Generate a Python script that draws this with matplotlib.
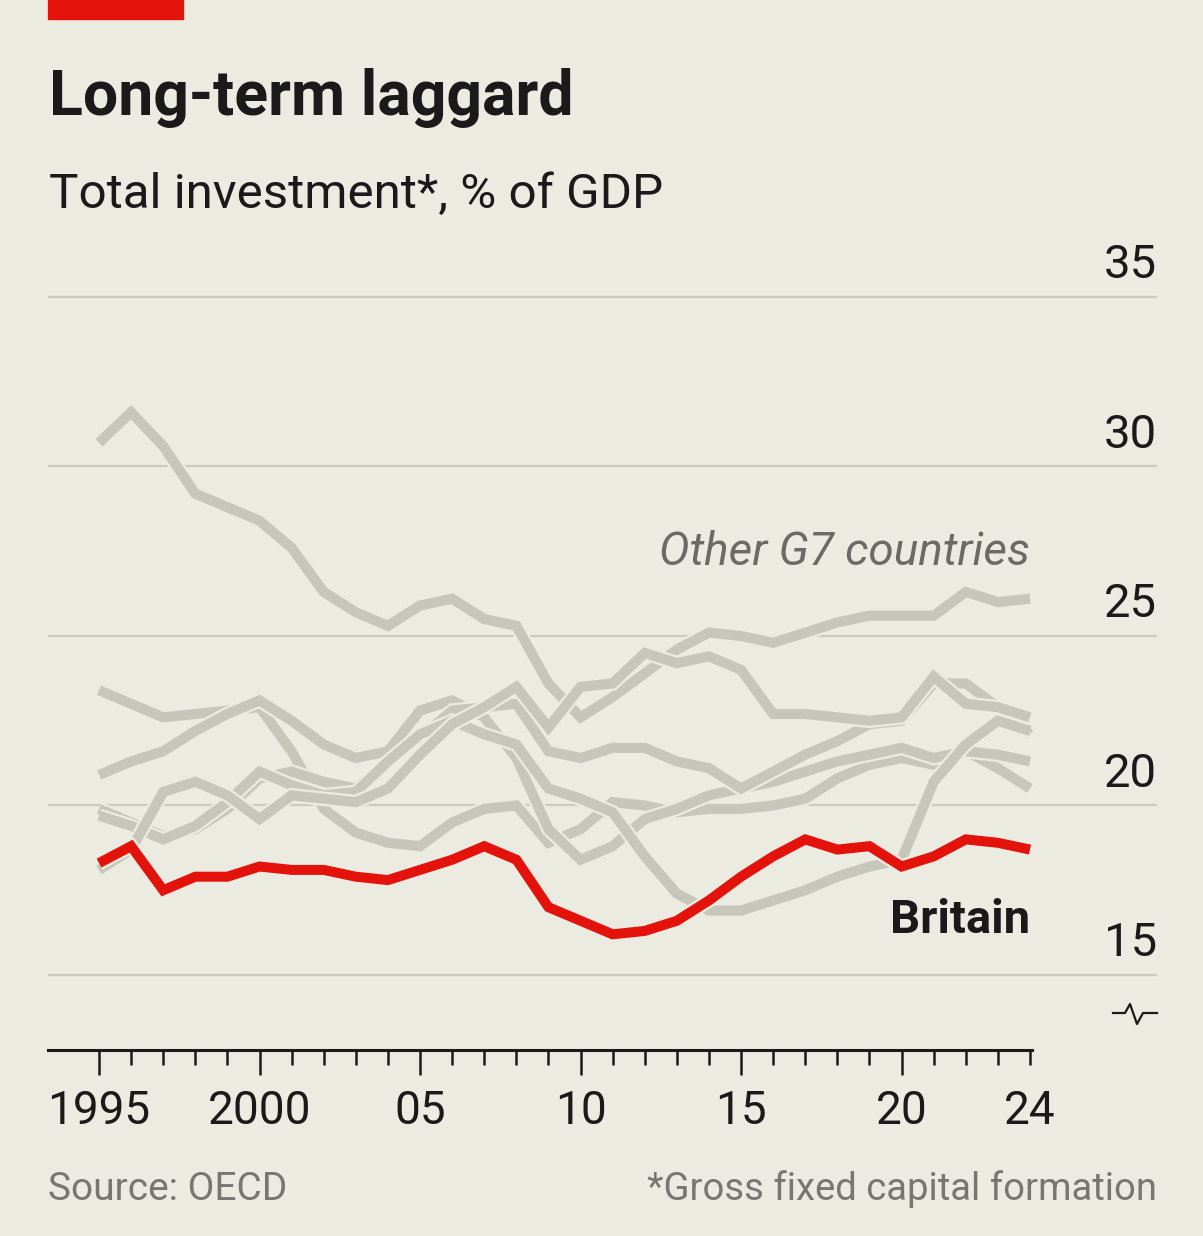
import matplotlib
matplotlib.use("Agg")
import matplotlib.pyplot as plt
import matplotlib.patheffects as pe
import numpy as np

years = np.arange(1995, 2025)

britain = [18.3, 18.8, 17.5, 17.9, 17.9, 18.2, 18.1, 18.1, 17.9, 17.8,
           18.1, 18.4, 18.8, 18.4, 17.0, 16.6, 16.2, 16.3, 16.6, 17.2,
           17.9, 18.5, 19.0, 18.7, 18.8, 18.2, 18.5, 19.0, 18.9, 18.7]

japan = [30.7, 31.6, 30.6, 29.2, 28.8, 28.4, 27.6, 26.3, 25.7, 25.3,
         25.9, 26.1, 25.5, 25.3, 23.6, 22.6, 23.2, 23.9, 24.6, 25.1,
         25.0, 24.8, 25.1, 25.4, 25.6, 25.6, 25.6, 26.3, 26.0, 26.1]

canada = [18.1, 18.7, 20.4, 20.7, 20.3, 19.6, 20.3, 20.2, 20.1, 20.5,
          21.5, 22.4, 22.9, 23.5, 22.3, 23.5, 23.6, 24.5, 24.2, 24.4,
          24.0, 22.7, 22.7, 22.6, 22.5, 22.6, 23.8, 23.0, 22.9, 22.6]

united_states = [20.9, 21.3, 21.6, 22.2, 22.7, 23.1, 22.5, 21.8, 21.4, 21.6,
                 22.8, 23.1, 22.6, 21.4, 19.3, 18.4, 18.8, 19.6, 19.9, 20.3,
                 20.5, 20.7, 21.0, 21.3, 21.5, 21.7, 21.4, 21.6, 21.5, 21.3]

germany = [23.4, 23.0, 22.6, 22.7, 22.8, 22.9, 21.6, 19.9, 19.2, 18.9,
           18.8, 19.5, 19.9, 20.0, 18.9, 19.3, 20.1, 20.0, 19.8, 19.9,
           19.9, 20.0, 20.2, 20.8, 21.2, 21.4, 21.2, 21.6, 21.1, 20.5]

france = [19.9, 19.5, 19.1, 19.3, 19.9, 20.8, 21.0, 20.7, 20.5, 21.3,
          22.0, 22.8, 22.9, 23.0, 21.6, 21.4, 21.7, 21.7, 21.3, 21.1,
          20.5, 21.0, 21.5, 21.9, 22.4, 22.5, 23.6, 23.6, 22.9, 22.1]

italy = [19.7, 19.4, 19.0, 19.4, 20.1, 21.0, 20.6, 20.3, 20.4, 21.3,
         22.1, 22.5, 22.1, 21.8, 20.5, 20.2, 19.8, 18.5, 17.4, 16.9,
         16.9, 17.2, 17.5, 17.9, 18.2, 18.4, 20.7, 21.8, 22.5, 22.2]

others = [japan, germany, united_states, france, italy, canada]

y_ticks = [15, 20, 25, 30, 35]
x_ticks = [1995, 2000, 2005, 2010, 2015, 2020, 2024]
x_labels = ["1995", "2000", "05", "10", "15", "20", "24"]

BG = "#ECEBE1"
GREY = "#C6C6BA"
GRID = "#CACAC0"
RED = "#E3120B"
INK = "#1A1A1A"

plt.rcParams["font.family"] = ["Roboto", "DejaVu Sans"]

W, H = 1203, 1236
fig = plt.figure(figsize=(W / 100, H / 100), dpi=100, facecolor=BG)

# axes placed in pixel terms
left_px, right_px, top_px, bottom_px = 48, 1157, 250, 1050
px_per_year = (1030 - 99) / 29
px_per_unit = (975 - 297) / 20
ax = fig.add_axes([left_px / W, 1 - bottom_px / H,
                   (right_px - left_px) / W, (bottom_px - top_px) / H])
ax.set_facecolor(BG)
ax.set_xlim(1995 - (99 - left_px) / px_per_year, 2024 + (right_px - 1030) / px_per_year)
ax.set_ylim(15 - (bottom_px - 975) / px_per_unit, 35 + (297 - top_px) / px_per_unit)

for v in y_ticks:
    ax.axhline(v, color=GRID, lw=1.6, zorder=1)
    ax.annotate(str(v), xy=(1, v), xycoords=("axes fraction", "data"),
                xytext=(0, 7), textcoords="offset points",
                ha="right", va="bottom", fontsize=34, color=INK)

stroke = [pe.Stroke(linewidth=10.5, foreground=BG), pe.Normal()]
for i, series in enumerate(others):
    ax.plot(years, series, color=GREY, lw=7.3, solid_joinstyle="miter",
            solid_capstyle="butt", zorder=2 + i, path_effects=stroke)

ax.plot(years, britain, color=RED, lw=7.2, solid_joinstyle="miter",
        solid_capstyle="butt", zorder=20,
        path_effects=[pe.Stroke(linewidth=10.5, foreground=BG), pe.Normal()])

ax.text(2024, 27.1, "Other G7 countries", ha="right", va="baseline",
        fontsize=33, style="italic", color="#6B6B66")
ax.text(2024, 16.25, "Britain", ha="right", va="baseline",
        fontsize=34, weight="bold", color=INK)

# axis break mark
bx = [(p - 99) / px_per_year + 1995 for p in (1113, 1125, 1130, 1137, 1143, 1157)]
by = [15 - (p - 975) / px_per_unit for p in (1013, 1013, 1004, 1024, 1013, 1013)]
ax.plot(bx, by, color=INK, lw=1.6, clip_on=False, zorder=30)

for s in ["top", "right", "left"]:
    ax.spines[s].set_visible(False)
ax.spines["bottom"].set_color(INK)
ax.spines["bottom"].set_linewidth(2.2)
ax.spines["bottom"].set_bounds(ax.get_xlim()[0], 2024.05)

ax.set_yticks([])
ax.set_xticks(x_ticks)
ax.set_xticklabels(x_labels)
ax.set_xticks(years, minor=True)
ax.tick_params(axis="x", which="major", direction="out", length=18, width=1.8,
               color=INK, labelsize=33, labelcolor=INK, pad=10)
ax.tick_params(axis="x", which="minor", direction="out", length=11, width=1.8,
               color=INK)
ax.xaxis.get_major_ticks()[-1].tick1line.set_markersize(11)

# header and footer
fig.patches.append(plt.Rectangle((48 / W, 1 - 19 / H), 135 / W, 19 / H,
                                 transform=fig.transFigure, color=RED))
fig.text(49 / W, 1 - 115 / H, "Long-term laggard", fontsize=45, weight="bold",
         color=INK, va="baseline")
fig.text(49 / W, 1 - 208 / H, "Total investment*, % of GDP", fontsize=35.5,
         color=INK, va="baseline")
fig.text(48 / W, 1 - 1200 / H, "Source: OECD", fontsize=28, color="#777772",
         va="baseline")
fig.text(1157 / W, 1 - 1200 / H, "*Gross fixed capital formation", fontsize=27.5,
         color="#777772", va="baseline", ha="right")

fig.savefig("out.png", dpi=100, facecolor=BG)
